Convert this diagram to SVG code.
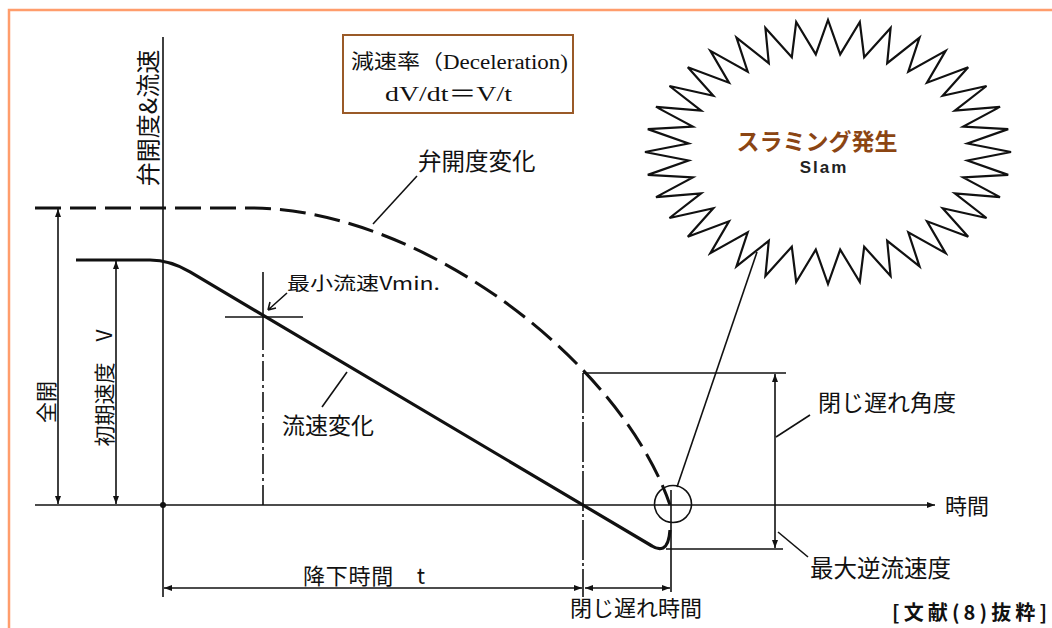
<svg xmlns="http://www.w3.org/2000/svg" width="1052" height="628" viewBox="0 0 1052 628">
<style>
.jp{font-family:'Noto Sans CJK JP','Noto Sans',sans-serif;fill:#111}
.ser{font-family:'Liberation Serif','Noto Sans CJK JP',serif;fill:#111}
.ln{stroke:#111;stroke-width:1.6;fill:none}
.thick{stroke:#111;stroke-width:3.2;fill:none;stroke-linejoin:round}
.dash{stroke:#111;stroke-width:3;fill:none;stroke-dasharray:26 9}
.dd{stroke:#111;stroke-width:1.6;fill:none;stroke-dasharray:20 4 3 4}
.dim{stroke:#111;stroke-width:1.6;fill:none;marker-start:url(#ah);marker-end:url(#ah)}
</style>
<defs>
<marker id="ah" viewBox="0 0 8 6" refX="8" refY="3" markerWidth="8" markerHeight="6" markerUnits="userSpaceOnUse" orient="auto-start-reverse">
<path d="M0,0 L8,3 L0,6 z" fill="#111"/>
</marker>
</defs>
<rect width="1052" height="628" fill="#ffffff"/>
<g id="frame">
<path d="M1052,10 L9,10 L9,628" fill="none" stroke="#ff9d6c" stroke-width="2.5"/>
</g>
<g id="axes">
<line class="ln" x1="163" y1="37" x2="163" y2="597" stroke-width="2"/>
<line class="ln" x1="35" y1="505" x2="935" y2="505" stroke-width="2" style="marker-end:url(#ah)"/>
<circle cx="163" cy="505" r="3" fill="#111"/>
</g>
<g id="curves">
<path class="dash" d="M35,208 L250,208 C420,208 620,360 670,505"/>
<path class="thick" d="M76,260 L150,260 Q170,260 190,271.9 L652,546 Q658,550 663,548 Q669,545 670,530"/>
<line class="ln" x1="263" y1="272" x2="263" y2="330"/>
<line class="dd" x1="263" y1="330" x2="263" y2="505"/>
<line class="ln" x1="225" y1="317" x2="303" y2="317"/>
<line class="dd" x1="583" y1="373" x2="583" y2="597" style="stroke-dasharray:40 3 3 3"/>
<line class="ln" x1="583" y1="373" x2="786" y2="373"/>
<line class="ln" x1="666" y1="549" x2="783" y2="549"/>
<line class="ln" x1="671" y1="490" x2="671" y2="592"/>
<circle cx="673" cy="504" r="18.5" class="ln"/>
</g>
<g id="connectors">
<line class="dim" x1="58" y1="209" x2="58" y2="504"/>
<line class="dim" x1="116" y1="261" x2="116" y2="504"/>
<line class="dim" x1="164" y1="588" x2="582" y2="588"/>
<line class="dim" x1="585" y1="588" x2="670" y2="588"/>
<line class="dim" x1="775" y1="374" x2="775" y2="548"/>
<path class="ln" d="M287,293 L268,310 M268,310 L270,302 M268,310 L276,308"/>
<line class="ln" x1="322" y1="407" x2="347" y2="372"/>
<line class="ln" x1="417" y1="176" x2="373" y2="224"/>
<line class="ln" x1="810" y1="415" x2="776" y2="437"/>
<line class="ln" x1="808" y1="557" x2="778" y2="532"/>
<line class="ln" x1="677" y1="487" x2="757" y2="252"/>
</g>
<g id="box-deceleration">
<rect x="343" y="35" width="230" height="78" fill="#fff" stroke="#9a5a28" stroke-width="2"/>
<text class="ser" x="351" y="69" font-size="20" textLength="217" lengthAdjust="spacingAndGlyphs">減速率（Deceleration)</text>
<text class="ser" x="385" y="101" font-size="22" textLength="127" lengthAdjust="spacingAndGlyphs">dV/dt＝V/t</text>
</g>
<g id="slam-burst">
<polygon fill="#fff" stroke="#111" stroke-width="2.2" stroke-linejoin="miter" points="1011,152 967.5,160.5 1008.2,174.9 963.2,177.4 1000,197.1 954.9,193.4 986.5,218 942.7,208.2 968.2,236.8 927,221.3 945.6,253.1 908.3,232.3 919.5,266.3 887.2,240.8 890.6,276 864.2,246.7 859.8,282 840.2,249.6 828,284 815.8,249.6 796.2,282 791.8,246.7 765.4,276 768.8,240.8 736.5,266.3 747.7,232.3 710.4,253.1 729,221.3 687.8,236.8 713.3,208.2 669.5,218 701.1,193.4 656,197.1 692.8,177.4 647.8,174.9 688.5,160.5 645,152 688.5,143.5 647.8,129.1 692.8,126.6 656,106.9 701.1,110.6 669.5,86 713.3,95.8 687.8,67.2 729,82.7 710.4,50.9 747.7,71.7 736.5,37.7 768.8,63.2 765.4,28 791.8,57.3 796.2,22 815.8,54.4 828,20 840.2,54.4 859.8,22 864.2,57.3 890.6,28 887.2,63.2 919.5,37.7 908.3,71.7 945.6,50.9 927,82.7 968.2,67.2 942.7,95.8 986.5,86 954.9,110.6 1000,106.9 963.2,126.6 1008.2,129.1 967.5,143.5"/>
<text class="jp" x="817" y="150" font-size="23" font-weight="bold" text-anchor="middle" style="fill:#8b4513">スラミング発生</text>
<text x="824" y="173" font-size="17" font-weight="bold" text-anchor="middle" letter-spacing="2" font-family="'Liberation Sans',sans-serif" fill="#222">Slam</text>
</g>
<g id="label-axis-y">
<text class="jp" transform="translate(157,118) rotate(-90)" font-size="24" text-anchor="middle">弁開度&amp;流速</text>
</g>
<g id="label-full-open">
<text class="jp" transform="translate(54,402) rotate(-90)" font-size="21" text-anchor="middle">全開</text>
</g>
<g id="label-initial-velocity">
<text class="jp" transform="translate(112,388) rotate(-90)" font-size="21" text-anchor="middle">初期速度　V</text>
</g>
<g id="label-valve-change"><text class="jp" x="418" y="170" font-size="23.5">弁開度変化</text></g>
<g id="label-vmin"><text class="jp" x="287" y="290" font-size="18" textLength="153" lengthAdjust="spacingAndGlyphs">最小流速Vmin.</text></g>
<g id="label-flow-change"><text class="jp" x="282" y="434" font-size="23">流速変化</text></g>
<g id="label-close-angle"><text class="jp" x="818" y="411" font-size="23">閉じ遅れ角度</text></g>
<g id="label-max-reverse"><text class="jp" x="810" y="577" font-size="23.5">最大逆流速度</text></g>
<g id="label-time"><text class="jp" x="945" y="514" font-size="22">時間</text></g>
<g id="label-fall-time"><text class="jp" x="303" y="584" font-size="22" textLength="122" lengthAdjust="spacing">降下時間　t</text></g>
<g id="label-close-time"><text class="jp" x="570" y="616" font-size="22">閉じ遅れ時間</text></g>
<g id="label-source"><text class="jp" x="892" y="620" font-size="20" font-weight="bold" textLength="155" lengthAdjust="spacing">[文献(8)抜粋]</text></g>
</svg>
